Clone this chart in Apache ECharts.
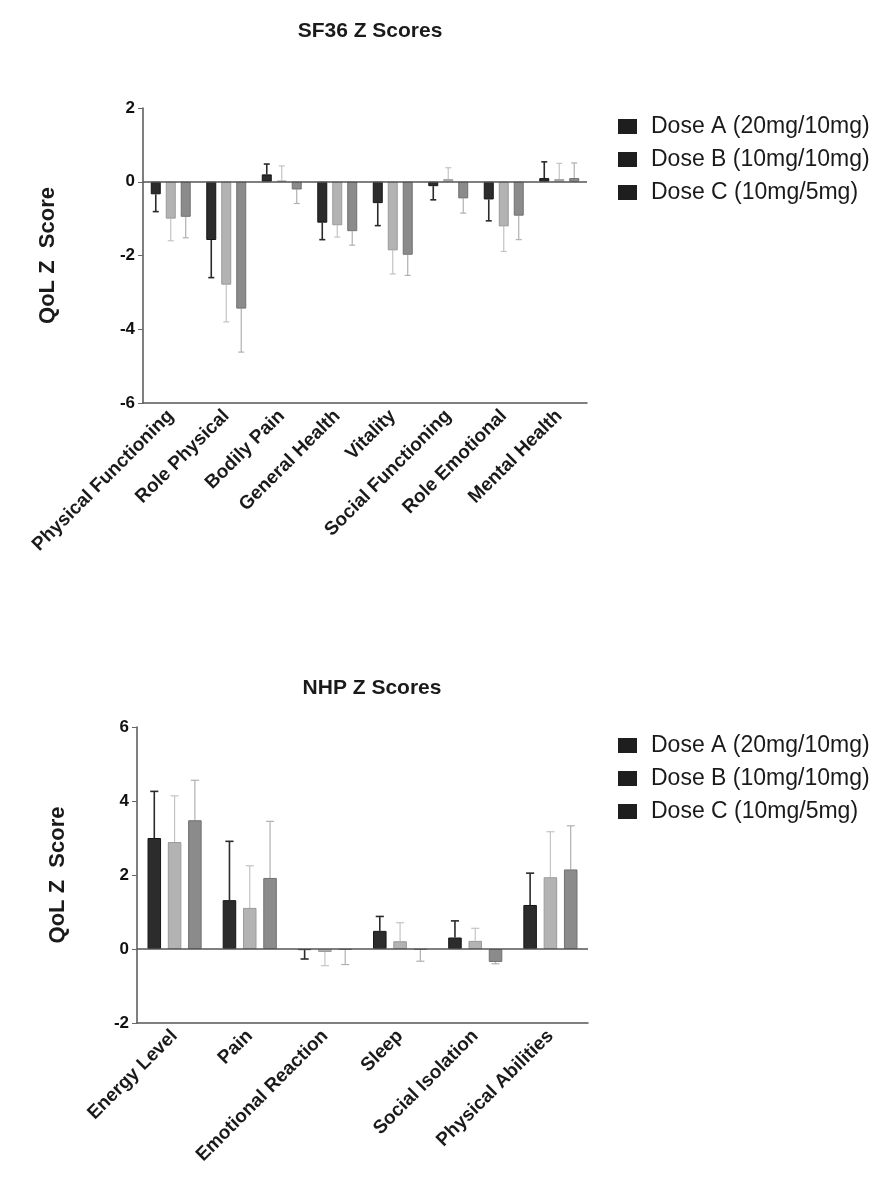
<!DOCTYPE html>
<html>
<head>
<meta charset="utf-8">
<script src="https://cdn.jsdelivr.net/npm/echarts@6/dist/echarts.min.js"></script>
<style>
html,body{margin:0;padding:0;background:#fff;}
#chart{width:880px;height:1195px;}
</style>
</head>
<body>
<div id="chart"></div>
<script>
// ---------- data ----------
const seriesNames = ['Dose A (20mg/10mg)', 'Dose B (10mg/10mg)', 'Dose C (10mg/5mg)'];

const sfCategories = ['Physical Functioning', 'Role Physical', 'Bodily Pain', 'General Health',
  'Vitality', 'Social Functioning', 'Role Emotional', 'Mental Health'];
const sfDoseA = [-0.34, -1.58, 0.20, -1.11, -0.58, -0.12, -0.48, 0.10];
const sfDoseB = [-1.00, -2.79, 0.03, -1.18, -1.86, 0.07, -1.21, 0.07];
const sfDoseC = [-0.95, -3.44, -0.21, -1.34, -1.98, -0.45, -0.92, 0.10];
const sfErrA = [0.47, 1.02, 0.28, 0.46, 0.61, 0.37, 0.58, 0.44];
const sfErrB = [0.60, 1.01, 0.40, 0.32, 0.64, 0.31, 0.68, 0.43];
const sfErrC = [0.57, 1.18, 0.38, 0.38, 0.56, 0.40, 0.65, 0.41];
const sfTicks = {min: -6, max: 2, interval: 2};

const nhpCategories = ['Energy Level', 'Pain', 'Emotional Reaction', 'Sleep', 'Social Isolation', 'Physical Abilities'];
const nhpDoseA = [3.00, 1.32, -0.03, 0.49, 0.31, 1.19];
const nhpDoseB = [2.89, 1.11, -0.08, 0.21, 0.22, 1.94];
const nhpDoseC = [3.48, 1.92, -0.02, -0.02, -0.35, 2.15];
const nhpErrA = [1.26, 1.59, 0.24, 0.39, 0.45, 0.86];
const nhpErrB = [1.25, 1.14, 0.37, 0.50, 0.34, 1.23];
const nhpErrC = [1.08, 1.53, 0.40, 0.31, 0.05, 1.18];
const nhpTicks = {min: -2, max: 6, interval: 2};

// ---------- styles ----------
const FONT = '"Liberation Sans", Arial, sans-serif';
const barColors = ['#2c2c2c', '#b3b3b3', '#8b8b8b'];
const barBorders = ['#151515', '#9a9a9a', '#707070'];
const errColors = ['#2a2a2a', '#c4c4c4', '#b0b0b0'];
const BAR_FRAC = 0.18;

const chart = echarts.init(document.getElementById('chart'), null, {renderer: 'canvas'});

function xAxisFor(gridIndex, cats) {
  return {
    type: 'category', gridIndex, data: cats,
    axisLine: {onZero: false, lineStyle: {color: '#555', width: 1.5}},
    axisTick: {alignWithLabel: true, length: 5, lineStyle: {color: '#666'}},
    axisLabel: {interval: 0, rotate: 45, margin: 10, fontSize: 19, fontWeight: 'bold',
      color: '#1a1a1a', fontFamily: FONT}
  };
}
function yAxisFor(gridIndex, ticks, gap) {
  return {
    type: 'value', gridIndex, min: ticks.min, max: ticks.max, interval: ticks.interval,
    name: 'QoL Z  Score', nameLocation: 'middle', nameRotate: 90, nameGap: gap,
    nameTextStyle: {fontSize: 22, fontWeight: 'bold', color: '#1a1a1a', fontFamily: FONT},
    axisLine: {show: true, lineStyle: {color: '#555', width: 1.5}},
    axisTick: {show: true, length: 5, lineStyle: {color: '#666'}},
    axisLabel: {fontSize: 17, fontWeight: 'bold', color: '#111', margin: 8, fontFamily: FONT},
    splitLine: {show: false}
  };
}

function barSeries(k, axisIdx, values) {
  const s = {
    name: seriesNames[k], type: 'bar', xAxisIndex: axisIdx, yAxisIndex: axisIdx,
    data: values, barWidth: (BAR_FRAC * 100) + '%', barGap: '50%',
    itemStyle: {color: barColors[k], borderColor: barBorders[k], borderWidth: 1},
    emphasis: {disabled: true}
  };
  if (k === 0) {
    s.markLine = {silent: true, symbol: ['none', 'none'], label: {show: false},
      lineStyle: {color: '#555', width: 1.5, type: 'solid'}, data: [{yAxis: 0}], animation: false};
  }
  return s;
}

function errSeries(k, axisIdx, values, errs) {
  return {
    type: 'custom', xAxisIndex: axisIdx, yAxisIndex: axisIdx, silent: true, z: 1,
    data: values.map((v, i) => [i, v, errs[i]]),
    renderItem: function (params, api) {
      const ci = api.value(0), v = api.value(1), e = api.value(2);
      const end = v >= 0 ? v + e : v - e;
      const p0 = api.coord([ci, v]);
      const p1 = api.coord([ci, end]);
      const band = api.size([1, 0])[0];
      const bw = band * BAR_FRAC;
      const x = p0[0] + (k - 1) * bw * 1.5;
      const cap = bw * 0.3;
      const style = {stroke: errColors[k], lineWidth: k === 0 ? 1.6 : 1.2};
      return {type: 'group', children: [
        {type: 'line', shape: {x1: x, y1: p0[1], x2: x, y2: p1[1]}, style},
        {type: 'line', shape: {x1: x - cap, y1: p1[1], x2: x + cap, y2: p1[1]}, style}
      ]};
    }
  };
}

function legendFor(top) {
  return {
    orient: 'vertical', left: 613, top, itemWidth: 19, itemHeight: 15, itemGap: 10,
    icon: 'rect', selectedMode: false,
    textStyle: {fontSize: 23, color: '#1a1a1a', fontFamily: FONT, padding: [0, 0, 0, 9]},
    data: seriesNames.map(n => ({name: n, itemStyle: {color: '#1e1e1e', borderWidth: 0}}))
  };
}

const option = {
  backgroundColor: '#fff',
  animation: false,
  title: [
    {text: 'SF36 Z Scores', left: 365, top: 16, textAlign: 'center',
      textStyle: {fontSize: 21, fontWeight: 'bold', color: '#1a1a1a', fontFamily: FONT}},
    {text: 'NHP Z Scores', left: 367, top: 673, textAlign: 'center',
      textStyle: {fontSize: 21, fontWeight: 'bold', color: '#1a1a1a', fontFamily: FONT}}
  ],
  legend: [legendFor(110), legendFor(729)],
  grid: [
    {left: 143, top: 108, width: 444, height: 295},
    {left: 137, top: 727, width: 451, height: 296}
  ],
  xAxis: [xAxisFor(0, sfCategories), xAxisFor(1, nhpCategories)],
  yAxis: [yAxisFor(0, sfTicks, 84), yAxisFor(1, nhpTicks, 68)],
  series: [
    barSeries(0, 0, sfDoseA), barSeries(1, 0, sfDoseB), barSeries(2, 0, sfDoseC),
    errSeries(0, 0, sfDoseA, sfErrA), errSeries(1, 0, sfDoseB, sfErrB), errSeries(2, 0, sfDoseC, sfErrC),
    barSeries(0, 1, nhpDoseA), barSeries(1, 1, nhpDoseB), barSeries(2, 1, nhpDoseC),
    errSeries(0, 1, nhpDoseA, nhpErrA), errSeries(1, 1, nhpDoseB, nhpErrB), errSeries(2, 1, nhpDoseC, nhpErrC)
  ]
};
chart.setOption(option);
</script>
</body>
</html>
